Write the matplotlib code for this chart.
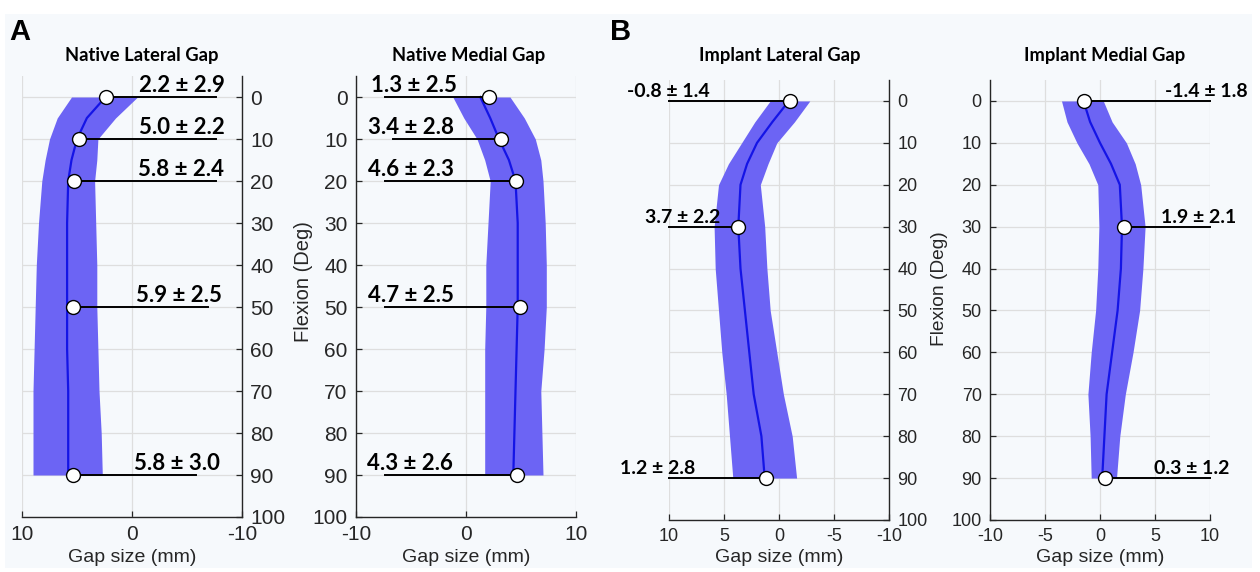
import matplotlib
matplotlib.use("Agg")
import matplotlib.pyplot as plt
from matplotlib.patches import Rectangle

plt.rcParams['axes.unicode_minus'] = False
plt.rcParams['font.family'] = ['Liberation Sans', 'DejaVu Sans']

# ---------------- data ----------------
flex = [0, 5, 10, 15, 20, 30, 40, 50, 60, 70, 80, 90]

nl_center = [2.4, 4.1, 5.0, 5.5, 5.8, 5.9, 5.9, 5.9, 5.9, 5.8, 5.8, 5.8]
nl_upper = [5.5, 6.8, 7.5, 7.9, 8.2, 8.5, 8.7, 8.8, 8.9, 9.0, 9.0, 9.0]
nl_lower = [-0.5, 1.5, 3.1, 3.2, 3.4, 3.3, 3.2, 3.2, 3.1, 3.0, 2.8, 2.7]

nm_center = [1.3, 2.2, 3.0, 3.9, 4.5, 4.7, 4.7, 4.7, 4.6, 4.5, 4.4, 4.3]
nm_upper = [4.0, 5.3, 6.3, 6.8, 7.0, 7.2, 7.3, 7.3, 7.1, 6.8, 6.9, 7.0]
nm_lower = [-1.2, -0.2, 1.0, 1.7, 2.2, 2.0, 1.8, 1.8, 1.7, 1.7, 1.7, 1.7]

il_center = [-0.9, 0.6, 2.0, 2.9, 3.5, 3.7, 3.5, 3.1, 2.7, 2.3, 1.6, 1.3]
il_upper = [0.8, 2.2, 3.4, 4.6, 5.5, 5.9, 5.8, 5.5, 5.2, 4.8, 4.5, 4.2]
il_lower = [-2.8, -1.4, 0.2, 1.0, 1.7, 1.3, 1.1, 0.8, 0.2, -0.4, -1.2, -1.6]

im_center = [-1.5, -0.9, 0.0, 1.0, 1.8, 2.0, 1.9, 1.6, 1.1, 0.6, 0.4, 0.2]
im_upper = [0.3, 1.1, 2.4, 3.2, 3.7, 4.1, 3.9, 3.6, 3.0, 2.3, 1.8, 1.5]
im_lower = [-3.5, -3.0, -2.1, -1.0, -0.2, -0.1, -0.2, -0.4, -0.8, -1.1, -0.9, -0.8]

nl_ann_flex = [0, 10, 20, 50, 90]
nl_ann_marker = [2.4, 4.8, 5.3, 5.4, 5.4]
nl_ann_labels = ['2.2 ± 2.9', '5.0 ± 2.2', '5.8 ± 2.4', '5.9 ± 2.5', '5.8 ± 3.0']

nm_ann_flex = [0, 10, 20, 50, 90]
nm_ann_marker = [2.1, 3.2, 4.5, 4.9, 4.6]
nm_ann_labels = ['1.3 ± 2.5', '3.4 ± 2.8', '4.6 ± 2.3', '4.7 ± 2.5', '4.3 ± 2.6']

il_ann_flex = [0, 30, 90]
il_ann_marker = [-1.0, 3.7, 1.2]
il_ann_labels = ['-0.8 ± 1.4', '3.7 ± 2.2', '1.2 ± 2.8']

im_ann_flex = [0, 30, 90]
im_ann_marker = [-1.5, 2.2, 0.45]
im_ann_labels = ['-1.4 ± 1.8', '1.9 ± 2.1', '0.3 ± 1.2']

titles = ['Native Lateral Gap', 'Native Medial Gap', 'Implant Lateral Gap', 'Implant Medial Gap']

# ---------------- styling / layout ----------------
W, H = 1260, 572
BAND = '#6c64f4'
LINE = '#1414e6'
AXC = '#262626'
GRID = '#dedede'
XLABEL_FS = 14

fig = plt.figure(figsize=(12.6, 5.72), dpi=100, facecolor='white')
fig.patches.append(Rectangle((5 / W, 4 / H), 1247 / W, 554 / H, transform=fig.transFigure,
                             facecolor='#f6f9fc', edgecolor='none', zorder=-10))


def px_axes(left, top, width, height):
    return fig.add_axes([left / W, 1 - (top + height) / H, width / W, height / H])


def setup(ax, xlim, xticks, yside, tick_fs):
    ax.set_facecolor('none')
    ax.set_xlim(*xlim)
    ax.set_ylim(100, -5)
    ax.set_xticks(xticks)
    ax.set_yticks(range(0, 101, 10))
    ax.grid(True, color=GRID, lw=0.9)
    ax.set_axisbelow(True)
    for s in ['top', 'left', 'right', 'bottom']:
        ax.spines[s].set_visible(False)
    ax.spines['bottom'].set_visible(True)
    ax.spines[yside].set_visible(True)
    for s in ['bottom', yside]:
        ax.spines[s].set_color(AXC)
        ax.spines[s].set_linewidth(1.0)
    if yside == 'right':
        ax.yaxis.tick_right()
    else:
        ax.yaxis.tick_left()
    ax.tick_params(direction='in', length=4, width=0.9, color=AXC, labelcolor=AXC,
                   labelsize=tick_fs, pad=6)
    ax.set_xlabel('Gap size (mm)', fontsize=XLABEL_FS, color=AXC, labelpad=3)


def draw(ax, center, lower, upper):
    ax.fill_betweenx(flex, lower, upper, color=BAND, lw=0, zorder=2)
    ax.plot(center, flex, color=LINE, lw=1.6, zorder=3)


def annotate(ax, aflex, amark, labels, line_to, text_x, ha, fs):
    for i, (f, m, lab) in enumerate(zip(aflex, amark, labels)):
        ax.plot([m, line_to[i]], [f, f], color='black', lw=1.4, zorder=4, clip_on=False)
        ax.plot([m], [f], 'o', ms=10, mfc='white', mec='black', mew=1.0, zorder=5, clip_on=False)
        ax.annotate(lab, xy=(text_x[i], f), xytext=(0, 0.5), textcoords='offset points',
                    ha=ha, va='bottom', fontsize=fs, fontweight='bold', family='Lato',
                    color='black', zorder=6, annotation_clip=False)


# Panel A1: Native Lateral
ax1 = px_axes(22, 76, 220, 441)
setup(ax1, (10, -10), [10, 0, -10], 'right', 15)
draw(ax1, nl_center, nl_lower, nl_upper)
annotate(ax1, nl_ann_flex, nl_ann_marker, nl_ann_labels,
         [-7.6, -7.6, -7.6, -6.9, -5.8], [-8.4, -8.4, -8.4, -8.2, -8.0], 'right', 16)

# Panel A2: Native Medial
ax2 = px_axes(356, 76, 220, 441)
setup(ax2, (-10, 10), [-10, 0, 10], 'left', 15)
draw(ax2, nm_center, nm_lower, nm_upper)
annotate(ax2, nm_ann_flex, nm_ann_marker, nm_ann_labels,
         [-7.4, -6.6, -7.4, -7.4, -7.4], [-8.6, -8.9, -8.9, -8.9, -9.0], 'left', 16)
ax2.set_ylabel('Flexion (Deg)', fontsize=14.5, color=AXC)
ax2.yaxis.set_label_coords(-0.195, 0.533)

# Panel B1: Implant Lateral
ax3 = px_axes(669, 80, 220, 440)
setup(ax3, (10, -10), [10, 5, 0, -5, -10], 'right', 13)
draw(ax3, il_center, il_lower, il_upper)
annotate(ax3, il_ann_flex, il_ann_marker, il_ann_labels,
         [10, 10, 10], [13.8, 12.2, 14.5], 'left', 14)

# Panel B2: Implant Medial
ax4 = px_axes(990, 80, 220, 440)
setup(ax4, (-10, 10), [-10, -5, 0, 5, 10], 'left', 13)
draw(ax4, im_center, im_lower, im_upper)
annotate(ax4, im_ann_flex, im_ann_marker, im_ann_labels,
         [10, 10, 10], [13.4, 12.4, 11.8], 'right', 14)
ax4.set_ylabel('Flexion (Deg)', fontsize=13.8, color=AXC)
ax4.yaxis.set_label_coords(-0.19, 0.525)

# titles
for cx, t in zip([142, 469, 780, 1105], titles):
    fig.text(cx / W, 1 - 55 / H, t, ha='center', va='center', fontsize=13.2,
             fontweight='bold', family='Lato', color='black')

# panel letters
fig.text(9 / W, 1 - 32 / H, 'A', ha='left', va='center', fontsize=21, fontweight='bold', color='black')
fig.text(610 / W, 1 - 32 / H, 'B', ha='left', va='center', fontsize=21, fontweight='bold', color='black')

fig.savefig('out.png', dpi=100, facecolor=fig.get_facecolor())
